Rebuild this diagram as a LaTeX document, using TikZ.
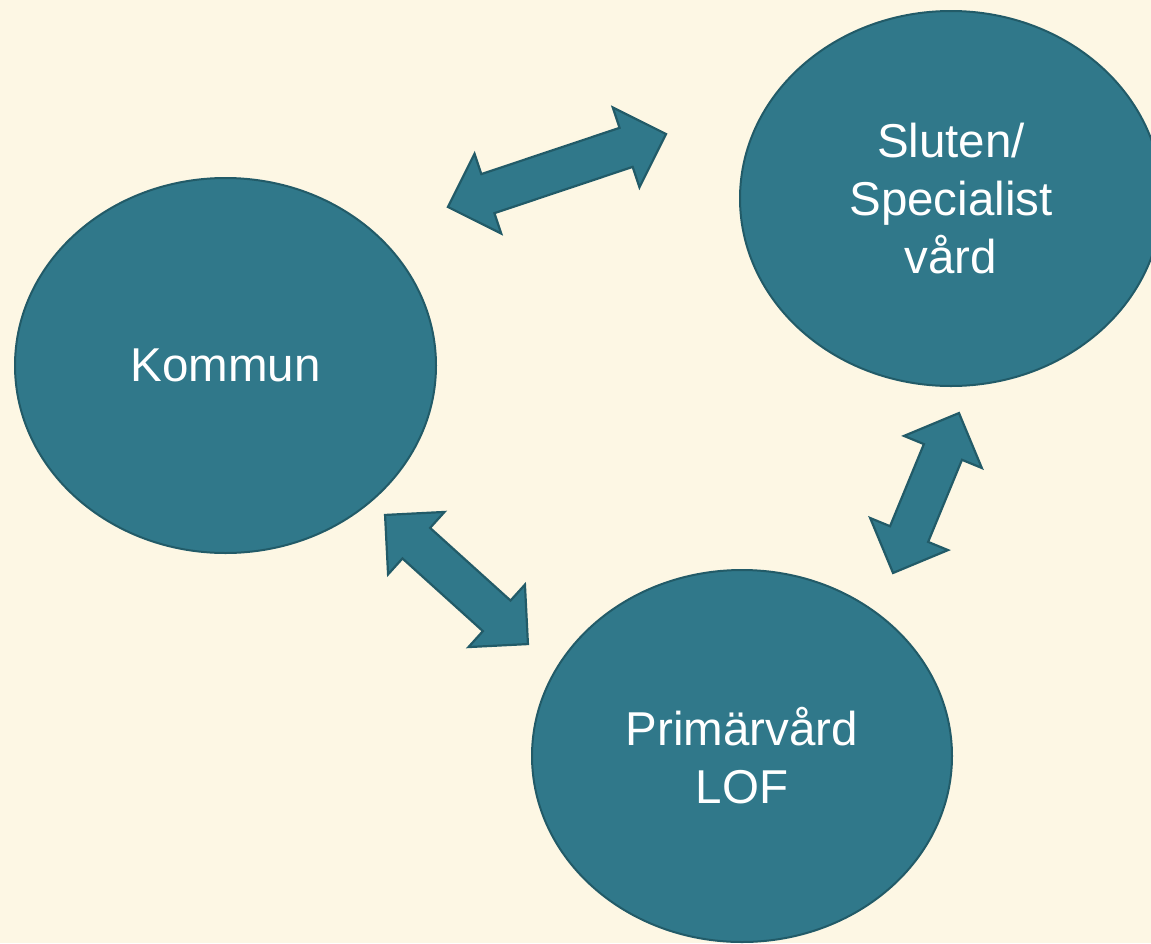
\documentclass[tikz,border=0pt]{standalone}
\usepackage{fontspec}
\setmainfont{Liberation Sans}
\usetikzlibrary{shapes.geometric, shapes.arrows}
\definecolor{bakgrund}{HTML}{FDF7E4}
\definecolor{fyllning}{HTML}{30788A}
\definecolor{kant}{HTML}{225B68}
\tikzset{
    vard/.style={ellipse, draw=kant, fill=fyllning, line width=1pt, inner sep=0pt,
        text=white, align=center, font=\fontsize{23.75}{29}\selectfont},
    pil/.style={double arrow, draw=kant, fill=fyllning, line width=1.1pt,
        inner xsep=0pt, inner ysep=9.75pt, double arrow head extend=10.75pt}
}
\begin{document}
\begin{tikzpicture}[x=0.5pt,y=-0.5pt]
    \useasboundingbox (0,0) rectangle (1151,943);
    \fill[bakgrund] (0,0) rectangle (1151,943);
    \clip (0,0) rectangle (1151,943);
    \node[vard, minimum width=210.5pt, minimum height=187.5pt] (kommun) at (225.5,365.5) {Kommun};
    \node[vard, minimum width=211pt, minimum height=187.5pt] (sluten) at (951,198.5) {Sluten/\\Specialist\\vård};
    \node[vard, minimum width=210pt, minimum height=186pt] (primar) at (742,756) {Primärvård\\LOF};
    \foreach \namn/\x/\y/\vinkel/\langd in {ks/557/170.5/18.5/115, kp/456.5/579.5/-42.1/96.3, ps/926/493/67.6/86.5}{
        \node[pil, rotate=\vinkel, minimum height=\langd pt] (\namn) at (\x,\y) {};
    }
\end{tikzpicture}
\end{document}
